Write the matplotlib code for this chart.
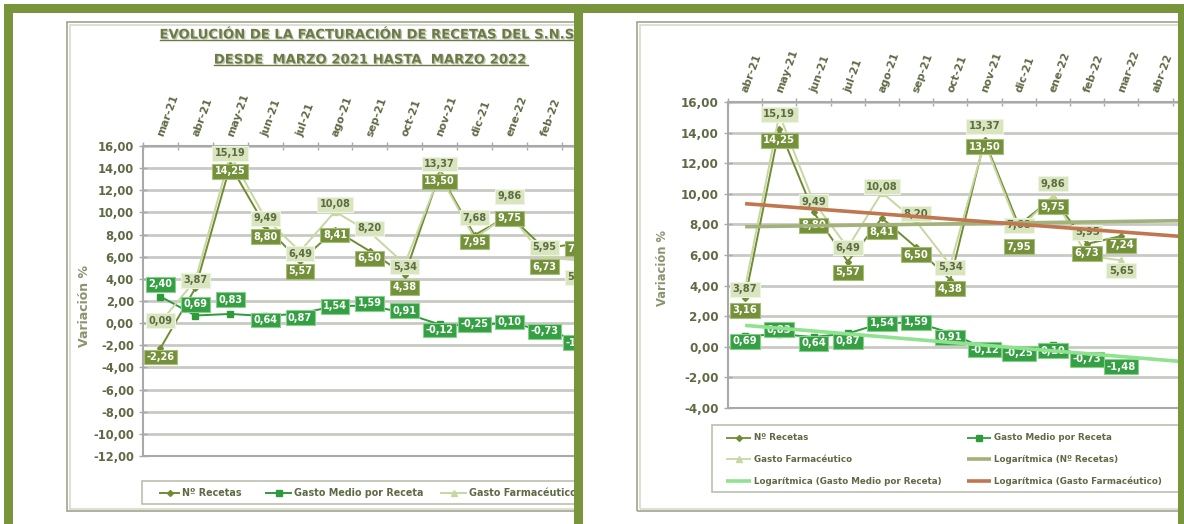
import numpy as np
import matplotlib
matplotlib.use("Agg")
import matplotlib.pyplot as plt
from matplotlib.patches import Rectangle
from matplotlib.lines import Line2D
import matplotlib.patheffects as pe

plt.rcParams['font.family'] = ['DejaVu Sans']
plt.rcParams['font.weight'] = 'bold'

# ---------------- data ----------------
meses_izq = ['mar-21', 'abr-21', 'may-21', 'jun-21', 'jul-21', 'ago-21', 'sep-21',
             'oct-21', 'nov-21', 'dic-21', 'ene-22', 'feb-22', 'mar-22']
meses_der = ['abr-21', 'may-21', 'jun-21', 'jul-21', 'ago-21', 'sep-21', 'oct-21',
             'nov-21', 'dic-21', 'ene-22', 'feb-22', 'mar-22', 'abr-22']
n_recetas = [-2.26, 3.16, 14.25, 8.80, 5.57, 8.41, 6.50, 4.38, 13.50, 7.95, 9.75, 6.73, 7.24]
gasto_medio = [2.40, 0.69, 0.83, 0.64, 0.87, 1.54, 1.59, 0.91, -0.12, -0.25, 0.10, -0.73, -1.48]
gasto_farm = [0.09, 3.87, 15.19, 9.49, 6.49, 10.08, 8.20, 5.34, 13.37, 7.68, 9.86, 5.95, 5.65]
ticks_izq = list(range(16, -13, -2))
ticks_der = list(range(16, -5, -2))

# label nudges (layout only, y units)
off_izq_rec = [-0.8, 0.7, -0.55, -1.0, -0.9, -0.45, -0.65, -1.15, -0.7, -0.6, -0.28, -1.63, -0.5]
off_izq_med = [1.1, 1.0, 1.3, -0.36, -0.38, 0.0, 0.2, 0.2, -0.5, 0.15, 0.0, 0.0, -0.3]
off_izq_far = [0.13, 0.0, 0.15, 0.0, -0.2, 0.65, 0.37, -0.24, 1.0, 1.84, 1.6, 0.9, -1.5]
off_der_rec = [-0.76, -0.75, -0.87, -0.7, -0.9, -0.5, -0.6, -0.43, -1.4, -0.6, -0.6, -0.6]
off_der_med = [-0.34, 0.27, -0.42, -0.52, 0.0, 0.0, -0.3, -0.07, -0.17, -0.36, -0.08, 0.17]
off_der_far = [-0.1, 0.0, 0.0, 0.0, 0.37, 0.5, -0.15, 1.06, 0.25, 0.8, 1.55, -0.67]

# ---------------- styles ----------------
C_FRAME = '#78953b'
C_REC, C_REC_BOX, C_REC_EDGE = '#6f8c33', '#74913a', '#a7bd7b'
C_MED, C_MED_BOX, C_MED_EDGE = '#2f9a3c', '#35a043', '#86d08c'
C_FAR, C_FAR_BOX, C_FAR_EDGE, C_FAR_TXT = '#c6d8a0', '#d8e5be', '#eef4e2', '#5d6b40'
C_TXT = '#5f6a45'
C_YLAB = '#8a946e'
C_GRID = '#c9c9c4'
C_AXIS = '#a9a9a9'
C_T_REC, C_T_MED, C_T_FAR = '#a3b27a', '#90e290', '#c0764f'

W, H = 1184, 524
fig = plt.figure(figsize=(W / 100, H / 100), dpi=100)
fig.patch.set_facecolor('white')


def X(px):
    return px / W


def Y(py):
    return 1 - py / H


def rect(x0, y0, x1, y1, **kw):
    r = Rectangle((X(x0), Y(y1)), (x1 - x0) / W, (y1 - y0) / H,
                  transform=fig.transFigure, **kw)
    fig.add_artist(r)
    return r


def fline(xs, ys, **kw):
    l = Line2D([X(v) for v in xs], [Y(v) for v in ys], transform=fig.transFigure, **kw)
    fig.add_artist(l)
    return l


def fmt(v):
    return f"{v:.2f}".replace('.', ',')


def add_ax(left, top, right, bottom):
    return fig.add_axes([X(left), Y(bottom), (right - left) / W, (bottom - top) / H])


def setup(ax, cats, yticks, ylim, xright, yfs, xfs):
    n = len(cats)
    ax.set_xlim(-0.5, xright)
    ax.set_ylim(*ylim)
    ax.xaxis.tick_top()
    ax.set_xticks(np.arange(n + 1) - 0.5)
    ax.set_xticklabels([])
    ax.set_xticks(np.arange(n), cats, minor=True)
    ax.tick_params(axis='x', which='major', top=True, bottom=False, direction='inout',
                   length=6, width=1, color=C_AXIS)
    ax.tick_params(axis='x', which='minor', top=True, bottom=False, labeltop=True,
                   labelbottom=False, length=0, pad=7, labelsize=xfs, labelcolor=C_TXT)
    for t in ax.get_xticklabels(minor=True):
        t.set_rotation(70)
        t.set_ha('left')
        t.set_va('center')
        t.set_rotation_mode('anchor')
    ax.set_yticks(yticks)
    ax.set_yticklabels([fmt(v) for v in yticks])
    ax.tick_params(axis='y', direction='inout', length=6, width=1, color=C_AXIS,
                   labelsize=yfs, labelcolor=C_TXT, pad=3.5)
    ax.yaxis.grid(True, color=C_GRID, lw=2)
    ax.set_axisbelow(True)
    ax.spines['right'].set_visible(False)
    for s in ['left', 'top', 'bottom']:
        ax.spines[s].set_color(C_AXIS)
        ax.spines[s].set_linewidth(1.5)


def labels(ax, xs, vals, offs, fc, ec, tc, z, fs):
    for x, v, o in zip(xs, vals, offs):
        ax.text(x, v + o, fmt(v), ha='center', va='center', fontsize=fs, color=tc,
                zorder=z, bbox=dict(boxstyle='square,pad=0.25', fc=fc, ec=ec, lw=0.8))


# ================= LEFT CHART =================
rect(67, 22, 640, 511, fill=False, ec='#9ea58a', lw=1.2, zorder=0.5)
rect(69.5, 24.5, 640, 508.5, fill=False, ec='#d7dbcc', lw=1.2, zorder=0.5)

axL = add_ax(143, 146, 143 + 13 * 34.9, 456)
setup(axL, meses_izq, ticks_izq, (-12, 16), 12.5, 8.3, 7.8)
xl = np.arange(len(meses_izq))
axL.plot(xl, n_recetas, color=C_REC, lw=1.4, marker='D', ms=3, zorder=3)
axL.plot(xl, gasto_medio, color=C_MED, lw=1.4, marker='s', ms=5, zorder=3)
axL.plot(xl, gasto_farm, color=C_FAR, lw=1.4, marker='^', ms=4, zorder=3)
labels(axL, xl, n_recetas, off_izq_rec, C_REC_BOX, C_REC_EDGE, 'white', 5, 7)
labels(axL, xl, gasto_medio, off_izq_med, C_MED_BOX, C_MED_EDGE, 'white', 6, 7)
labels(axL, xl, gasto_farm, off_izq_far, C_FAR_BOX, C_FAR_EDGE, C_FAR_TXT, 7, 7)

shadow = [pe.withSimplePatchShadow(offset=(1, -1), shadow_rgbFace='#c5ccb2', alpha=1)]
t1 = fig.text(X(371), Y(35), "EVOLUCIÓN DE LA FACTURACIÓN DE RECETAS DEL S.N.S.",
              ha='center', va='center', fontsize=9.5, color='#6b7a48', zorder=0.5,
              path_effects=shadow)
t2 = fig.text(X(371), Y(60), "DESDE  MARZO 2021 HASTA  MARZO 2022",
              ha='center', va='center', fontsize=9.5, color='#6b7a48', zorder=0.5,
              path_effects=shadow)
fig.text(X(85), Y(306), 'Variación %', rotation=90, ha='center', va='center',
         fontsize=9, color=C_YLAB, zorder=0.5)

# left legend
rect(141.5, 481, 640, 504, fc='white', ec='#bcbfae', lw=1.2, zorder=0.5)
ly = 492.5
leg_l = [(160, 179, 'Nº Recetas', C_REC, 'D', 3),
         (266, 291, 'Gasto Medio por Receta', C_MED, 's', 4),
         (441, 466, 'Gasto Farmacéutico', C_FAR, '^', 4)]
for x0, x1, txt, c, m, ms in leg_l:
    fline([x0, x1], [ly, ly], color=c, lw=1.4, zorder=0.6)
    fline([(x0 + x1) / 2], [ly], color=c, marker=m, ms=ms, lw=0, zorder=0.6)
    fig.text(X(x1 + 3), Y(ly), txt, ha='left', va='center', fontsize=6.9,
             color=C_TXT, zorder=0.6)

# cover overflow of left chart
rect(583, 13, 1178, 524, fc='white', ec='none', zorder=1)

# ================= RIGHT CHART =================
rect(637, 22, 1200, 511, fill=False, ec='#9ea58a', lw=1.2, zorder=2.5)
rect(639.5, 24.5, 1200, 508.5, fill=False, ec='#d7dbcc', lw=1.2, zorder=2.5)

sp = 34.2
axR = add_ax(728, 102, 1182, 408)
axR.set_zorder(2)
setup(axR, meses_der, ticks_der, (-4, 16), -0.5 + (1182 - 728) / sp, 8.6, 7.8)
rec_r, med_r, far_r = n_recetas[1:], gasto_medio[1:], gasto_farm[1:]
xr = np.arange(len(rec_r))
axR.plot(xr, rec_r, color=C_REC, lw=1.4, marker='D', ms=3, zorder=3)
axR.plot(xr, med_r, color=C_MED, lw=1.4, marker='s', ms=5, zorder=3)
axR.plot(xr, far_r, color=C_FAR, lw=1.4, marker='^', ms=4, zorder=3)
labels(axR, xr, rec_r, off_der_rec, C_REC_BOX, C_REC_EDGE, 'white', 5, 7.2)
labels(axR, xr, med_r, off_der_med, C_MED_BOX, C_MED_EDGE, 'white', 6, 7.2)
labels(axR, xr, far_r, off_der_far, C_FAR_BOX, C_FAR_EDGE, C_FAR_TXT, 7, 7.2)

xt = np.array([0, len(meses_der)])
for vals, c in [(rec_r, C_T_REC), (med_r, C_T_MED), (far_r, C_T_FAR)]:
    coef = np.polyfit(xr, vals, 1)
    axR.plot(xt, np.polyval(coef, xt), color=c, lw=2.6, zorder=8, solid_capstyle='butt')

fig.text(X(662), Y(268), 'Variación %', rotation=90, ha='center', va='center',
         fontsize=8.3, color=C_YLAB, zorder=2.5)

# right legend
rect(712, 425, 1200, 492, fc='white', ec='#bcbfae', lw=1.2, zorder=2.5)
leg_r = [(726, 751, 438, 'Nº Recetas', C_REC, 'D', 3, 1.3),
         (967, 991, 438, 'Gasto Medio por Receta', C_MED, 's', 4, 1.3),
         (726, 751, 459, 'Gasto Farmacéutico', C_FAR, '^', 4, 1.3),
         (967, 991, 459, 'Logarítmica (Nº Recetas)', C_T_REC, None, 0, 2.6),
         (726, 751, 481, 'Logarítmica (Gasto Medio por Receta)', C_T_MED, None, 0, 2.6),
         (967, 991, 481, 'Logarítmica (Gasto Farmacéutico)', C_T_FAR, None, 0, 2.6)]
for x0, x1, y, txt, c, m, ms, lw in leg_r:
    fline([x0, x1], [y, y], color=c, lw=lw, zorder=2.6, solid_capstyle='butt')
    if m:
        fline([(x0 + x1) / 2], [y], color=c, marker=m, ms=ms, lw=0, zorder=2.6)
    fig.text(X(x1 + 3), Y(y), txt, ha='left', va='center', fontsize=6.3,
             color=C_TXT, zorder=2.6)

# ================= green frame =================
for x0, y0, x1, y1 in [(4, 4, 1184, 13), (4, 4, 13, 524), (574, 4, 583, 524), (1178, 4, 1184, 524)]:
    rect(x0, y0, x1, y1, fc=C_FRAME, ec='none', zorder=10)

# underline titles
fig.canvas.draw()
rnd = fig.canvas.get_renderer()
for t in (t1, t2):
    bb = t.get_window_extent(rnd)
    yy = H - (bb.y0 + 1.5)
    fline([bb.x0, bb.x1], [yy, yy], color='#6b7a48', lw=1, zorder=0.5)

fig.savefig('out.png', dpi=100, facecolor='white')
